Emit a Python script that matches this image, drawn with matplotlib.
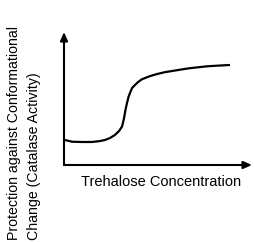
import matplotlib
matplotlib.use("Agg")
import matplotlib.pyplot as plt

# Curva (unidades arbitrárias, eixos de 0 a 10)
concentracao = [0.05, 0.43, 0.96, 1.49, 1.91, 2.18, 2.45, 2.71, 2.93, 3.09, 3.19, 3.27,
                3.35, 3.43, 3.51, 3.62, 3.78, 3.94, 4.15, 4.57, 4.95, 5.37, 5.80, 6.28,
                6.70, 7.61, 8.30, 8.83]
protecao = [1.88, 1.75, 1.73, 1.73, 1.80, 1.88, 2.03, 2.26, 2.56, 2.90, 3.50, 4.14,
            4.66, 5.11, 5.41, 5.79, 6.02, 6.24, 6.45, 6.68, 6.84, 6.98, 7.08, 7.19,
            7.28, 7.42, 7.48, 7.52]

rotulo_x = "Trehalose Concentration"
rotulo_y = "Protection against Conformational\nChange (Catalase Activity)"

plt.rcParams["font.family"] = ["Liberation Sans", "DejaVu Sans"]

fig = plt.figure(figsize=(2.55, 2.42), dpi=100)
ax = fig.add_axes([64 / 255, 1 - 165 / 242, 188 / 255, 133 / 242])

ax.plot(concentracao, protecao, color="black", linewidth=1.6,
        solid_capstyle="butt", solid_joinstyle="round")
ax.set_xlim(0, 10)
ax.set_ylim(0, 10)
ax.axis("off")

# Eixos com setas
seta = dict(arrowstyle="-|>,head_length=0.5,head_width=0.22", color="black", lw=1.5, shrinkA=0, shrinkB=0)
ax.annotate("", xy=(0, 10), xytext=(0, 0), xycoords="data", arrowprops=seta, annotation_clip=False)
ax.annotate("", xy=(10, 0), xytext=(0, 0), xycoords="data", arrowprops=seta, annotation_clip=False)

fig.text(161 / 255, 1 - 182 / 242, rotulo_x, ha="center", va="center", fontsize=10.5)
fig.text(24 / 255, 1 - 240 / 242, rotulo_y, ha="center", va="bottom", rotation=90,
         multialignment="left", fontsize=10.2, linespacing=1.55)

fig.savefig("out.png", dpi=100)
